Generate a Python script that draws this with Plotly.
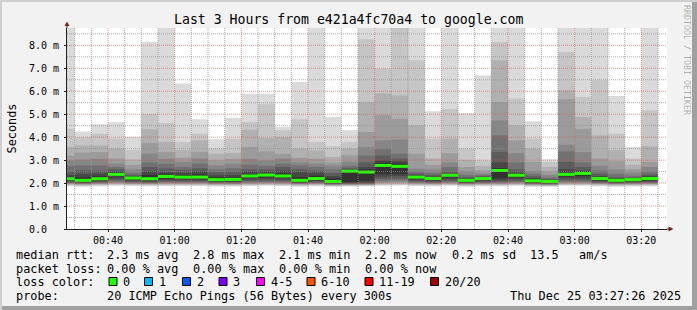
import plotly.graph_objects as go
import pandas as pd

# ---------------- data ----------------
day = "2025-12-25"
bar_times = ["00:30","00:35","00:40","00:45","00:50","00:55","01:00","01:05","01:10","01:15",
             "01:20","01:25","01:30","01:35","01:40","01:45","01:50","01:55","02:00","02:05",
             "02:10","02:15","02:20","02:25","02:30","02:35","02:40","02:45","02:50","02:55",
             "03:00","03:05","03:10","03:15","03:20","03:25"]

median = [2.19, 2.12, 2.19, 2.38, 2.22, 2.19, 2.29, 2.26, 2.26, 2.15, 2.16, 2.31, 2.35, 2.31, 2.12, 2.20, 2.07, 2.52,
          2.48, 2.77, 2.73, 2.26, 2.20, 2.34, 2.12, 2.20, 2.55, 2.34, 2.10, 2.07, 2.38, 2.42, 2.20, 2.12, 2.15, 2.20]

# upper edges of the smoke bands (outer -> inner)
hi1 = [9.5, 4.25, 4.56, 4.65, 4.01, 8.14, 9.5, 6.34, 4.78, 3.91, 4.84, 5.89, 5.89, 4.44, 6.40, 9.5, 4.88, 4.30,
       9.5, 9.5, 9.5, 9.5, 5.13, 9.5, 5.05, 6.69, 9.5, 9.5, 4.69, 3.03, 9.5, 9.5, 9.5, 5.79, 3.57, 9.5]
hi2 = [4.37, 4.00, 4.15, 3.94, 3.43, 5.02, 4.62, 3.79, 4.15, 3.50, 3.93, 4.66, 5.43, 4.30, 4.78, 3.79, 3.60, 3.79,
       8.26, 6.98, 9.5, 7.35, 3.94, 5.24, 3.50, 2.99, 8.14, 5.68, 3.94, 2.92, 7.71, 5.75, 6.48, 4.15, 3.07, 5.17]
hi3 = [3.57, 3.64, 3.64, 3.50, 3.02, 4.34, 3.79, 3.43, 3.86, 3.28, 3.32, 4.32, 3.96, 4.00, 3.50, 3.42, 3.14, 3.50,
       5.53, 5.90, 5.82, 4.52, 3.07, 3.94, 3.00, 2.75, 7.35, 4.52, 3.50, 2.70, 6.04, 4.88, 4.08, 3.43, 2.80, 3.60]
hi4 = [3.20, 3.33, 3.35, 3.07, 2.80, 3.75, 3.35, 3.10, 3.35, 3.00, 3.06, 3.57, 3.38, 3.28, 3.10, 3.06, 2.90, 3.21,
       4.22, 4.95, 4.80, 3.28, 2.80, 3.30, 2.70, 2.55, 5.53, 3.86, 2.92, 2.50, 5.65, 4.37, 3.07, 2.95, 2.60, 2.92]
hi5 = [2.99, 3.02, 3.06, 2.85, 2.60, 3.28, 3.06, 2.92, 3.07, 2.77, 2.85, 3.06, 2.99, 3.07, 2.90, 2.85, 2.77, 2.92,
       3.57, 3.86, 3.90, 2.63, 2.60, 2.90, 2.50, 2.42, 4.73, 3.30, 2.52, 2.35, 3.67, 3.35, 2.75, 2.60, 2.45, 2.70]
hi6 = [2.75, 2.77, 2.77, 2.70, 2.45, 2.90, 2.84, 2.70, 2.85, 2.60, 2.65, 2.80, 2.75, 2.85, 2.77, 2.70, 2.60, 2.75,
       3.20, 3.50, 3.28, 2.50, 2.45, 2.70, 2.35, 2.35, 4.08, 2.90, 2.40, 2.25, 3.38, 2.90, 2.55, 2.40, 2.32, 2.50]
hi7 = [2.50, 2.56, 2.55, 2.60, 2.35, 2.70, 2.63, 2.58, 2.65, 2.48, 2.50, 2.60, 2.60, 2.70, 2.60, 2.55, 2.45, 2.65,
       2.90, 3.20, 3.07, 2.42, 2.35, 2.50, 2.25, 2.30, 3.36, 2.60, 2.30, 2.18, 2.92, 2.70, 2.40, 2.25, 2.24, 2.38]
hi8 = [2.35, 2.40, 2.41, 2.50, 2.30, 2.50, 2.48, 2.45, 2.50, 2.35, 2.35, 2.50, 2.50, 2.55, 2.48, 2.45, 2.30, 2.60,
       2.70, 3.00, 2.95, 2.36, 2.28, 2.42, 2.20, 2.26, 2.90, 2.45, 2.22, 2.12, 2.60, 2.55, 2.30, 2.20, 2.20, 2.30]
hi9 = [2.27, 2.25, 2.30, 2.45, 2.27, 2.35, 2.38, 2.35, 2.38, 2.25, 2.25, 2.40, 2.42, 2.42, 2.25, 2.32, 2.20, 2.57,
       2.60, 2.90, 2.85, 2.31, 2.24, 2.38, 2.16, 2.23, 2.65, 2.40, 2.17, 2.10, 2.45, 2.48, 2.26, 2.16, 2.18, 2.25]

# lower edges of the smoke bands (outer -> inner)
lo1 = [1.86, 1.84, 1.86, 1.88, 1.87, 1.86, 1.87, 1.87, 1.87, 1.85, 1.85, 1.87, 1.88, 1.87, 1.84, 1.86, 1.84, 1.85,
       1.86, 1.88, 1.89, 1.87, 1.86, 1.88, 1.84, 1.86, 1.86, 1.88, 1.84, 1.84, 1.88, 1.88, 1.86, 1.84, 1.85, 1.86]
lo2 = [1.90, 1.88, 1.90, 1.92, 1.91, 1.90, 1.91, 1.91, 1.91, 1.89, 1.89, 1.91, 1.92, 1.91, 1.88, 1.90, 1.87, 1.88,
       1.89, 1.92, 1.93, 1.91, 1.90, 1.92, 1.88, 1.90, 1.90, 1.92, 1.87, 1.87, 1.92, 1.92, 1.90, 1.88, 1.89, 1.90]
lo3 = [1.93, 1.91, 1.93, 1.96, 1.94, 1.93, 1.94, 1.94, 1.94, 1.92, 1.92, 1.94, 1.95, 1.94, 1.91, 1.93, 1.89, 1.90,
       1.91, 1.96, 1.97, 1.94, 1.93, 1.95, 1.91, 1.93, 1.93, 1.95, 1.90, 1.89, 1.95, 1.95, 1.93, 1.91, 1.92, 1.93]
lo4 = [1.96, 1.94, 1.96, 1.99, 1.97, 1.96, 1.97, 1.97, 1.97, 1.95, 1.95, 1.97, 1.98, 1.97, 1.94, 1.96, 1.91, 1.92,
       1.93, 2.00, 2.01, 1.97, 1.96, 1.98, 1.94, 1.96, 1.96, 1.98, 1.92, 1.91, 1.98, 1.98, 1.96, 1.94, 1.95, 1.96]
lo5 = [1.98, 1.96, 1.98, 2.02, 1.99, 1.98, 2.00, 2.00, 2.00, 1.97, 1.97, 2.00, 2.01, 2.00, 1.96, 1.98, 1.93, 1.94,
       1.95, 2.04, 2.06, 2.00, 1.98, 2.01, 1.96, 1.98, 1.99, 2.01, 1.94, 1.93, 2.02, 2.02, 1.98, 1.96, 1.97, 1.98]
lo6 = [2.01, 1.98, 2.01, 2.06, 2.02, 2.00, 2.04, 2.03, 2.03, 1.99, 1.99, 2.04, 2.05, 2.04, 1.98, 2.01, 1.95, 1.96,
       1.97, 2.10, 2.12, 2.03, 2.01, 2.05, 1.98, 2.01, 2.02, 2.05, 1.96, 1.95, 2.06, 2.06, 2.01, 1.98, 1.99, 2.01]
lo7 = [2.04, 2.00, 2.04, 2.12, 2.05, 2.03, 2.08, 2.07, 2.07, 2.02, 2.02, 2.09, 2.10, 2.09, 2.00, 2.04, 1.97, 1.98,
       1.99, 2.18, 2.20, 2.07, 2.04, 2.10, 2.00, 2.04, 2.06, 2.10, 1.98, 1.97, 2.12, 2.12, 2.04, 2.00, 2.02, 2.04]
lo8 = [2.08, 2.03, 2.08, 2.20, 2.10, 2.07, 2.13, 2.12, 2.12, 2.06, 2.05, 2.15, 2.17, 2.15, 2.03, 2.08, 1.99, 2.00,
       2.02, 2.28, 2.30, 2.12, 2.08, 2.17, 2.03, 2.08, 2.12, 2.17, 2.01, 1.99, 2.20, 2.20, 2.08, 2.03, 2.05, 2.08]
lo9 = [2.13, 2.07, 2.13, 2.30, 2.15, 2.12, 2.20, 2.18, 2.18, 2.10, 2.10, 2.22, 2.25, 2.22, 2.07, 2.13, 2.02, 2.05,
       2.10, 2.40, 2.40, 2.18, 2.13, 2.25, 2.07, 2.14, 2.20, 2.25, 2.05, 2.02, 2.28, 2.30, 2.13, 2.07, 2.10, 2.13]

smoke_colors = ["#dadada", "#c5c5c5", "#b0b0b0", "#9b9b9b", "#868686", "#717171", "#5c5c5c", "#474747", "#323232"]

tick_labels = ["00:40", "01:00", "01:20", "01:40", "02:00", "02:20", "02:40", "03:00", "03:20"]
y_ticks = [0, 1, 2, 3, 4, 5, 6, 7, 8]
y_tick_text = ["0.0\u00a0\u00a0", "1.0 m", "2.0 m", "3.0 m", "4.0 m", "5.0 m", "6.0 m", "7.0 m", "8.0 m"]

title = "Last 3 Hours from e421a4fc70a4 to google.com"
rtt_labels = ["avg", "max", "min", "now", "sd"]
rtt_values = [2.3, 2.8, 2.1, 2.2, 0.2]
am_s = 13.5
loss_labels = ["avg", "max", "min", "now"]
loss_values = [0.00, 0.00, 0.00, 0.00]
loss_color_labels = ["0", "1", "2", "3", "4-5", "6-10", "11-19", "20/20"]
loss_colors = ["#26ff00", "#00b8ff", "#0059ff", "#7e00ff", "#ff00ff", "#ff5500", "#ff0000", "#a10000"]
probe_text = "20 ICMP Echo Pings (56 Bytes) every 300s"
stamp_text = "Thu Dec 25 03:27:26 2025"

# ---------------- geometry (pixels) ----------------
W, H = 697, 310
L, R, T, B = 67, 30, 28, 81
PW, PH = W - L - R, H - T - B
Y_TOP = 8.755
x_start = pd.Timestamp(f"{day} 00:27:42")
x_end = pd.Timestamp(f"{day} 03:27:42")
STEP_MS = 300000


def px_x(p):
    return (p - L) / PW


def px_y(p):
    return (H - B - p) / PH


ends = [pd.Timestamp(f"{day} {t}") for t in bar_times]
centers = [e - pd.Timedelta(seconds=150) for e in ends]
widths = [STEP_MS] * len(centers)

fig = go.Figure()
his = [hi1, hi2, hi3, hi4, hi5, hi6, hi7, hi8, hi9]
los = [lo1, lo2, lo3, lo4, lo5, lo6, lo7, lo8, lo9]
for hi, lo, col in zip(his, los, smoke_colors):
    fig.add_trace(go.Bar(x=centers, y=[h - l for h, l in zip(hi, lo)], base=lo, width=widths,
                         marker=dict(color=col, line=dict(width=0)), hoverinfo="skip"))
# median line (3 px thick)
mthick = 3 * Y_TOP / PH
fig.add_trace(go.Bar(x=centers, y=[mthick] * len(median), base=[m - mthick / 2 for m in median], width=widths,
                     marker=dict(color=loss_colors[0], line=dict(width=0)), hoverinfo="skip"))

mono = "DejaVu Sans Mono"
fig.update_layout(
    width=W, height=H, margin=dict(l=L, r=R, t=T, b=B),
    paper_bgcolor="#f2f2f2", plot_bgcolor="#ffffff",
    barmode="overlay", showlegend=False,
    font=dict(family=mono, size=10, color="#000000"),
    xaxis=dict(type="date", range=[x_start, x_end], showgrid=False, zeroline=False,
               tickvals=[pd.Timestamp(f"{day} {t}") for t in tick_labels], ticktext=tick_labels,
               showline=True, linecolor="#1f1f1f", linewidth=1,
               ticks="outside", ticklen=2, tickcolor="#1f1f1f", tickfont=dict(family=mono, size=10),
               fixedrange=True),
    yaxis=dict(range=[0, Y_TOP], showgrid=False, zeroline=False,
               tickvals=y_ticks, ticktext=y_tick_text,
               showline=True, linecolor="#1f1f1f", linewidth=1,
               ticks="outside", ticklen=2, tickcolor="#1f1f1f", tickfont=dict(family=mono, size=10),
               ticklabelstandoff=3, fixedrange=True),
)

shapes = []
minor_col = "rgba(143,143,143,0.75)"
major_col = "rgba(222,79,79,0.6)"
# horizontal grid
for k in range(1, 18):
    v = k * 0.5
    shapes.append(dict(type="line", xref="paper", yref="y", x0=0, x1=1, y0=v, y1=v,
                       line=dict(color=major_col if k % 2 == 0 else minor_col, width=1, dash="1px,1px"),
                       layer="above"))
# vertical grid
major_times = set(pd.Timestamp(f"{day} {t}") for t in tick_labels)
for t in pd.date_range(f"{day} 00:30", f"{day} 03:25", freq="5min"):
    shapes.append(dict(type="line", xref="x", yref="paper", x0=t, x1=t, y0=0, y1=1,
                       line=dict(color=major_col if t in major_times else minor_col, width=1, dash="1px,1px"),
                       layer="above"))
# axis extensions + arrows
shapes.append(dict(type="line", xref="paper", yref="paper", x0=px_x(67), x1=px_x(67), y0=1, y1=px_y(25),
                   line=dict(color="#1f1f1f", width=1)))
shapes.append(dict(type="path", xref="paper", yref="paper",
                   path=f"M {px_x(64.5)} {px_y(26)} L {px_x(69.5)} {px_y(26)} L {px_x(67)} {px_y(21.5)} Z",
                   fillcolor="#801f1f", line=dict(width=0)))
shapes.append(dict(type="line", xref="paper", yref="paper", x0=1, x1=px_x(669), y0=0, y1=0,
                   line=dict(color="#1f1f1f", width=1)))
shapes.append(dict(type="path", xref="paper", yref="paper",
                   path=f"M {px_x(668.5)} {px_y(226.5)} L {px_x(668.5)} {px_y(231.5)} L {px_x(673.5)} {px_y(229)} Z",
                   fillcolor="#801f1f", line=dict(width=0)))
# frame
shapes.append(dict(type="rect", xref="paper", yref="paper", x0=px_x(0), x1=px_x(W), y0=px_y(0), y1=px_y(2),
                   fillcolor="#cfcfcf", line=dict(width=0)))
shapes.append(dict(type="rect", xref="paper", yref="paper", x0=px_x(0), x1=px_x(2), y0=px_y(0), y1=px_y(H),
                   fillcolor="#cfcfcf", line=dict(width=0)))
shapes.append(dict(type="rect", xref="paper", yref="paper", x0=px_x(W - 5), x1=px_x(W), y0=px_y(2), y1=px_y(H),
                   fillcolor="#a0a0a0", line=dict(width=0)))
shapes.append(dict(type="rect", xref="paper", yref="paper", x0=px_x(2), x1=px_x(W), y0=px_y(H - 4), y1=px_y(H),
                   fillcolor="#a0a0a0", line=dict(width=0)))
# loss colour boxes
box_x = [109, 144.5, 182.5, 219, 256.5, 307, 365, 430.5]
for bx, col in zip(box_x, loss_colors):
    shapes.append(dict(type="rect", xref="paper", yref="paper", x0=px_x(bx), x1=px_x(bx + 8),
                       y0=px_y(277.5), y1=px_y(285.5), fillcolor=col, line=dict(color="#000000", width=1)))
fig.update_layout(shapes=shapes)


def txt(s, x, y, size=11.85, anchor="left", angle=0, color="#000000"):
    fig.add_annotation(text=s, x=px_x(x), y=px_y(y), xref="paper", yref="paper", xanchor=anchor,
                       yanchor="middle", showarrow=False, textangle=angle, borderpad=0, borderwidth=0,
                       font=dict(family=mono, size=size, color=color))


txt(title, 348, 19, size=13.2, anchor="center")
txt("Seconds", 11, 128.5, size=11.85, anchor="center", angle=-90)
txt("RRDTOOL / TOBI OETIKER", 687, 60, size=8.3, anchor="center", angle=90, color="rgba(0,0,0,0.3)")

col_x = [107, 193, 279, 365, 452]
y1, y2, y3, y4 = 255, 268.5, 282, 296
txt("median rtt:", 16, y1)
for cx, v, lab in zip(col_x, rtt_values, rtt_labels):
    txt(f"{v:.1f} ms {lab}", cx, y1)
txt(f"{am_s:.1f}", 530, y1)
txt("am/s", 579, y1)
txt("packet loss:", 16, y2)
for cx, v, lab in zip(col_x, loss_values, loss_labels):
    txt(f"{v:.2f} % {lab}", cx, y2)
txt("loss color:", 16, y3)
for bx, lab in zip(box_x, loss_color_labels):
    txt(lab, bx + 14, y3)
txt("probe:", 16, y4)
txt(probe_text, 107, y4)
txt(stamp_text, 681, y4, anchor="right")

fig.write_html("out.html")
